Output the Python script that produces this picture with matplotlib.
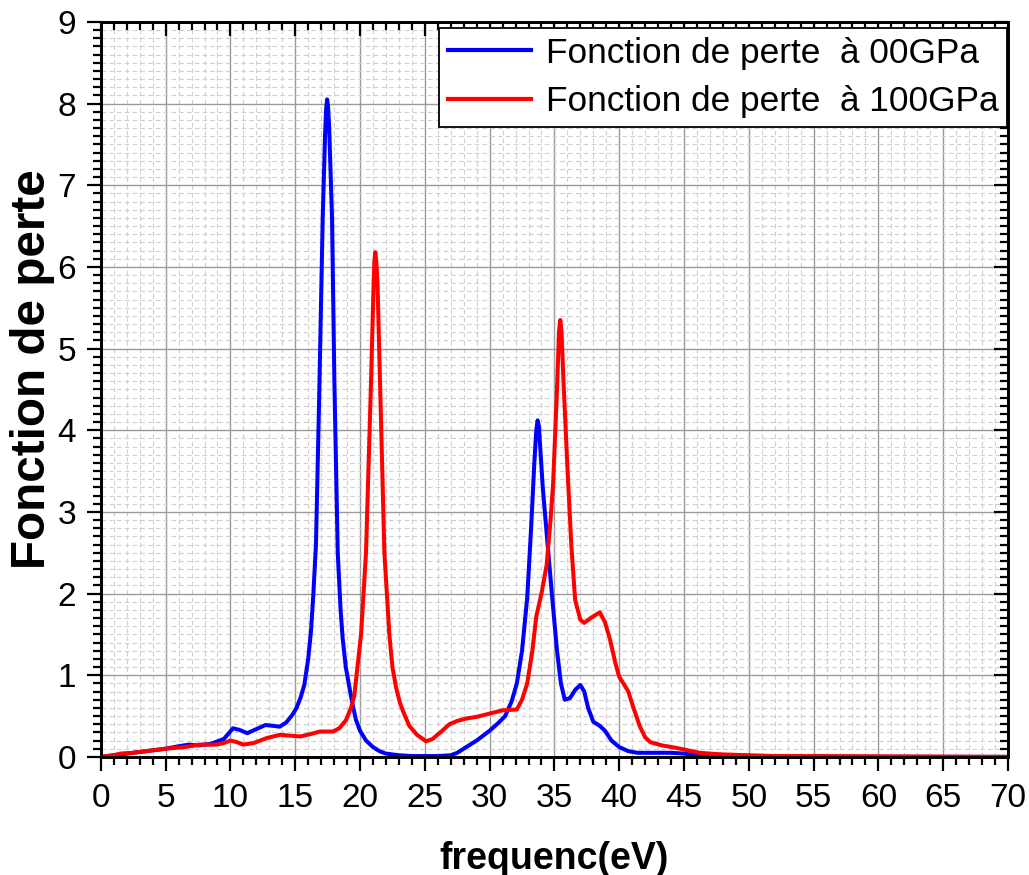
import matplotlib
matplotlib.use("Agg")
import matplotlib.pyplot as plt
from matplotlib.ticker import MultipleLocator

plt.rcParams['font.family'] = ['Liberation Sans', 'DejaVu Sans']

# fonction de perte a 0 GPa
freq_0 = [0, 1, 2, 3, 4, 5, 6, 6.8, 7.5, 8.5, 9.5, 10.2, 10.7, 11.3, 12, 12.7, 13.3, 13.8,
          14.3, 14.8, 15.1, 15.4, 15.7, 16.0, 16.22, 16.4, 16.6, 16.86, 17.12, 17.3, 17.38,
          17.46, 17.54, 17.62, 17.84, 18.02, 18.28, 18.5, 18.66, 18.9, 19.18, 19.45, 19.69,
          20.0, 20.46, 21.0, 21.5, 22, 23, 24, 25, 26, 27, 27.5, 28, 29, 30, 30.7, 31.2, 31.7,
          32.1, 32.5, 32.9, 33.2, 33.45, 33.6, 33.7, 33.8, 33.9, 34.1, 34.4, 34.8, 35.2, 35.5,
          35.8, 36.2, 36.6, 37.0, 37.3, 37.6, 38.0, 38.5, 38.9, 39.4, 40.0, 40.7, 41.4, 42, 43,
          44, 45, 46, 47, 48, 50, 70]
perte_0 = [0, 0.02, 0.04, 0.06, 0.08, 0.10, 0.13, 0.15, 0.14, 0.16, 0.22, 0.35, 0.33, 0.29,
           0.34, 0.39, 0.38, 0.37, 0.42, 0.52, 0.6, 0.72, 0.88, 1.2, 1.55, 2.0, 2.6, 4.5, 6.6,
           7.6, 7.92, 8.05, 7.95, 7.7, 6.6, 4.6, 2.5, 1.8, 1.45, 1.1, 0.85, 0.62, 0.45, 0.32,
           0.2, 0.12, 0.07, 0.04, 0.02, 0.01, 0.01, 0.01, 0.02, 0.05, 0.1, 0.2, 0.32, 0.42,
           0.5, 0.68, 0.9, 1.3, 1.95, 2.8, 3.6, 4.0, 4.12, 4.05, 3.8, 3.3, 2.74, 2.0, 1.3, 0.9,
           0.7, 0.72, 0.82, 0.88, 0.8, 0.6, 0.43, 0.38, 0.32, 0.2, 0.12, 0.07, 0.05, 0.05,
           0.05, 0.05, 0.04, 0.02, 0.01, 0, 0, 0]

# fonction de perte a 100 GPa
freq_100 = [0, 1, 1.5, 2.5, 3.5, 5, 6.5, 7.6, 8.9, 9.5, 10, 10.5, 11, 11.8, 12.8, 13.8, 14.6,
            15.4, 16.2, 16.9, 17.9, 18.4, 18.92, 19.3, 19.56, 19.8, 20.08, 20.46, 20.85, 21.05,
            21.11, 21.18, 21.25, 21.35, 21.54, 21.88, 22.26, 22.5, 22.78, 23.1, 23.42, 23.8,
            24.4, 25.1, 25.6, 26.2, 26.9, 27.5, 28.2, 29, 30, 31, 32.1, 32.5, 32.9, 33.3, 33.6,
            34.0, 34.4, 34.7, 34.9, 35.2, 35.35, 35.45, 35.55, 35.7, 36.0, 36.3, 36.6, 37.0,
            37.3, 37.8, 38.5, 38.9, 39.3, 39.7, 40, 40.4, 40.7, 41.1, 41.6, 42.0, 42.4, 43.3,
            44.4, 45.3, 46.2, 47, 48, 50, 52, 55, 70]
perte_100 = [0, 0.02, 0.04, 0.05, 0.07, 0.1, 0.12, 0.15, 0.15, 0.17, 0.2, 0.18, 0.15, 0.17,
             0.23, 0.27, 0.26, 0.25, 0.28, 0.31, 0.31, 0.35, 0.45, 0.6, 0.75, 1.1, 1.5, 2.5,
             4.6, 5.8, 6.08, 6.18, 6.08, 5.8, 4.6, 2.5, 1.5, 1.1, 0.85, 0.65, 0.52, 0.38, 0.27,
             0.19, 0.22, 0.3, 0.4, 0.44, 0.47, 0.49, 0.53, 0.57, 0.58, 0.7, 0.9, 1.3, 1.72, 2.0,
             2.35, 2.9, 3.35, 4.5, 5.2, 5.35, 5.2, 4.6, 3.55, 2.6, 1.92, 1.68, 1.64, 1.7, 1.77,
             1.65, 1.43, 1.15, 0.98, 0.88, 0.8, 0.6, 0.37, 0.24, 0.18, 0.14, 0.11, 0.08, 0.05,
             0.04, 0.03, 0.02, 0.01, 0.01, 0]

labels = ["Fonction de perte  à 00GPa", "Fonction de perte  à 100GPa"]
x_ticks = list(range(0, 71, 5))
y_ticks = list(range(0, 10))

fig = plt.figure(figsize=(10.29, 8.75), dpi=100)
ax = fig.add_axes([0.098, 0.135, 0.8816, 0.84])

ax.plot(freq_0, perte_0, color='#0000ff', lw=2.9, label=labels[0], zorder=3)
ax.plot(freq_100, perte_100, color='#ff0000', lw=2.9, label=labels[1], zorder=3)

ax.set_xlim(0, 70)
ax.set_ylim(0, 9)
ax.set_xticks(x_ticks)
ax.set_yticks(y_ticks)
ax.xaxis.set_minor_locator(MultipleLocator(1))
ax.yaxis.set_minor_locator(MultipleLocator(0.1))

# grille : principale pleine, secondaire en tirets
ax.set_axisbelow(True)
ax.grid(which='major', color='#9a9a9a', lw=1.0, ls='-')
ax.grid(which='minor', color='#cfcfcf', lw=0.8, ls=(0, (4, 3)))

for s in ax.spines.values():
    s.set_linewidth(1.8)
ax.tick_params(which='major', direction='out', length=10, width=1.6, labelsize=24, pad=8)
ax.tick_params(which='minor', direction='out', length=5.5, width=1.6)
ax.tick_params(axis='x', pad=9)

# graduations vers l'interieur en haut et a droite (axes jumeaux)
tx = ax.twiny()
tx.set_xlim(ax.get_xlim())
tx.set_xticks(x_ticks)
tx.xaxis.set_minor_locator(MultipleLocator(1))
tx.tick_params(which='major', direction='in', length=10, width=1.6, labeltop=False)
tx.tick_params(which='minor', direction='in', length=5.5, width=1.6)
ty = ax.twinx()
ty.set_ylim(ax.get_ylim())
ty.set_yticks(y_ticks)
ty.yaxis.set_minor_locator(MultipleLocator(0.1))
ty.tick_params(which='major', direction='in', length=10, width=1.6, labelright=False)
ty.tick_params(which='minor', direction='in', length=5.5, width=1.6)
for t in (tx, ty):
    for s in t.spines.values():
        s.set_linewidth(1.8)

ax.set_xlabel("frequenc(eV)", fontsize=27, fontweight='bold', labelpad=19)
ax.set_ylabel("Fonction de perte", fontsize=34.3, fontweight='bold')
ax.yaxis.set_label_coords(-0.050, 0.527)

leg = ty.legend(*ax.get_legend_handles_labels(), loc='upper right',
                bbox_to_anchor=(0.999, 0.992), borderaxespad=0,
                fontsize=25.4, frameon=True, fancybox=False, framealpha=1,
                edgecolor='black', handlelength=2.35, handletextpad=0.42,
                labelspacing=0.45, borderpad=0.25)
leg.get_frame().set_linewidth(1.3)
for line in leg.get_lines():
    line.set_linewidth(3)

fig.savefig("out.png", dpi=100)
plt.close()
